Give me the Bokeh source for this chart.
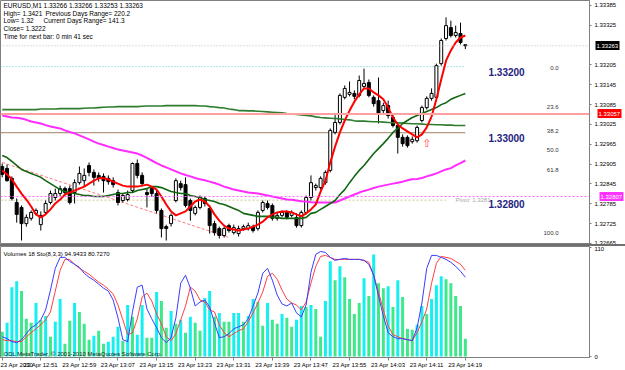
from bokeh.plotting import figure
from bokeh.models import (Range1d, LinearAxis, FixedTicker, NumeralTickFormatter,
                          Label, Span, ColumnDataSource, Spacer)
from bokeh.layouts import column
from bokeh.embed import file_html
from bokeh.resources import INLINE

# ---------------- data (EURUSD M1, 23 Apr 2010, 12:43 .. 14:19) ----------------
bar_index = list(range(97))

opens = [1.32898,1.32892,1.32862,1.32789,1.32774,1.32725,1.32741,1.32756,1.32722,1.32759,
         1.32789,1.32804,1.32816,1.32831,1.32831,1.32819,1.32849,1.32855,1.32901,1.32880,
         1.32871,1.32868,1.32862,1.32855,1.32819,1.32795,1.32798,1.32825,1.32907,1.32871,
         1.32819,1.32831,1.32816,1.32765,1.32716,1.32725,1.32795,1.32846,1.32843,1.32795,
         1.32756,1.32774,1.32801,1.32771,1.32725,1.32710,1.32689,1.32719,1.32698,1.32695,
         1.32710,1.32710,1.32716,1.32710,1.32765,1.32786,1.32780,1.32741,1.32750,1.32759,
         1.32750,1.32744,1.32719,1.32759,1.32804,1.32834,1.32834,1.32849,1.32886,1.33001,
         1.33031,1.33107,1.33116,1.33119,1.33113,1.33140,1.33152,1.33107,1.33097,1.33067,
         1.33082,1.33046,1.33022,1.32986,1.32986,1.32973,1.32976,1.33037,1.33076,1.33104,
         1.33107,1.33209,1.33285,1.33318,1.33294,1.33300,1.33266]
highs = [1.32907,1.32904,1.32868,1.32801,1.32780,1.32753,1.32765,1.32771,1.32762,1.32795,
         1.32825,1.32831,1.32840,1.32837,1.32840,1.32859,1.32898,1.32892,1.32910,1.32889,
         1.32880,1.32877,1.32871,1.32865,1.32828,1.32816,1.32825,1.32910,1.32919,1.32880,
         1.32831,1.32837,1.32825,1.32771,1.32722,1.32756,1.32862,1.32855,1.32865,1.32801,
         1.32780,1.32810,1.32807,1.32780,1.32734,1.32716,1.32716,1.32725,1.32722,1.32719,
         1.32722,1.32728,1.32722,1.32765,1.32795,1.32795,1.32786,1.32759,1.32765,1.32765,
         1.32765,1.32756,1.32765,1.32810,1.32871,1.32846,1.32868,1.32886,1.33013,1.33058,
         1.33119,1.33143,1.33155,1.33128,1.33173,1.33194,1.33161,1.33113,1.33167,1.33091,
         1.33097,1.33055,1.33031,1.32995,1.32992,1.32989,1.33022,1.33082,1.33110,1.33134,
         1.33209,1.33285,1.33349,1.33339,1.33324,1.33333,1.33266]
lows = [1.32865,1.32852,1.32795,1.32728,1.32674,1.32716,1.32734,1.32750,1.32704,1.32753,
        1.32783,1.32795,1.32807,1.32810,1.32783,1.32786,1.32843,1.32837,1.32868,1.32840,
        1.32852,1.32819,1.32843,1.32834,1.32780,1.32789,1.32792,1.32819,1.32862,1.32837,
        1.32774,1.32807,1.32756,1.32683,1.32674,1.32716,1.32789,1.32825,1.32774,1.32734,
        1.32750,1.32768,1.32777,1.32695,1.32689,1.32680,1.32683,1.32698,1.32692,1.32686,
        1.32704,1.32704,1.32698,1.32704,1.32759,1.32768,1.32734,1.32734,1.32744,1.32738,
        1.32744,1.32713,1.32713,1.32753,1.32795,1.32825,1.32828,1.32843,1.32880,1.32995,
        1.33025,1.33101,1.33110,1.33101,1.33107,1.33134,1.33107,1.33079,1.33028,1.33058,
        1.33043,1.33016,1.32937,1.32958,1.32955,1.32967,1.32970,1.33031,1.33070,1.33097,
        1.33101,1.33203,1.33279,1.33288,1.33288,1.33267,1.33253]
closes = [1.32874,1.32855,1.32801,1.32753,1.32725,1.32744,1.32759,1.32765,1.32750,1.32786,
          1.32816,1.32816,1.32831,1.32819,1.32789,1.32849,1.32877,1.32871,1.32880,1.32865,
          1.32862,1.32855,1.32852,1.32843,1.32789,1.32810,1.32813,1.32907,1.32871,1.32846,
          1.32813,1.32816,1.32765,1.32710,1.32710,1.32750,1.32855,1.32834,1.32780,1.32765,
          1.32774,1.32804,1.32786,1.32719,1.32698,1.32689,1.32710,1.32704,1.32713,1.32710,
          1.32716,1.32719,1.32704,1.32759,1.32789,1.32774,1.32741,1.32750,1.32759,1.32744,
          1.32759,1.32719,1.32759,1.32804,1.32849,1.32840,1.32862,1.32880,1.33007,1.33031,
          1.33113,1.33134,1.33122,1.33110,1.33158,1.33149,1.33113,1.33088,1.33058,1.33082,
          1.33052,1.33022,1.32986,1.32967,1.32961,1.32980,1.33016,1.33076,1.33104,1.33119,
          1.33203,1.33279,1.33324,1.33294,1.33303,1.33273,1.33263]

ma_fast = [1.32886,1.32874,1.32859,1.32837,1.32816,1.32798,1.32777,1.32753,1.32744,1.32753,
           1.32768,1.32786,1.32798,1.32813,1.32819,1.32825,1.32831,1.32837,1.32846,1.32855,
           1.32862,1.32862,1.32859,1.32852,1.32846,1.32840,1.32837,1.32837,1.32837,1.32840,
           1.32843,1.32837,1.32828,1.32807,1.32783,1.32762,1.32750,1.32756,1.32762,1.32777,
           1.32792,1.32798,1.32792,1.32777,1.32753,1.32734,1.32719,1.32710,1.32707,1.32704,
           1.32707,1.32710,1.32716,1.32722,1.32731,1.32744,1.32753,1.32759,1.32762,1.32762,
           1.32759,1.32753,1.32747,1.32756,1.32768,1.32783,1.32822,1.32855,1.32910,1.32958,
           1.33001,1.33037,1.33067,1.33094,1.33116,1.33134,1.33134,1.33122,1.33113,1.33101,
           1.33076,1.33046,1.33025,1.33013,1.33004,1.32995,1.32986,1.32995,1.33016,1.33049,
           1.33101,1.33161,1.33218,1.33249,1.33273,1.33288,1.33294]
ma_mid = [1.32931,1.32925,1.32913,1.32901,1.32889,1.32883,1.32877,1.32871,1.32865,1.32855,
          1.32846,1.32837,1.32828,1.32822,1.32819,1.32816,1.32813,1.32810,1.32810,1.32807,
          1.32807,1.32807,1.32810,1.32813,1.32816,1.32816,1.32819,1.32819,1.32825,1.32828,
          1.32831,1.32837,1.32837,1.32834,1.32828,1.32822,1.32819,1.32816,1.32816,1.32810,
          1.32807,1.32804,1.32798,1.32795,1.32792,1.32786,1.32783,1.32777,1.32771,1.32765,
          1.32756,1.32753,1.32750,1.32747,1.32747,1.32747,1.32744,1.32744,1.32741,1.32741,
          1.32741,1.32741,1.32741,1.32744,1.32756,1.32759,1.32768,1.32777,1.32786,1.32795,
          1.32813,1.32828,1.32849,1.32868,1.32886,1.32901,1.32919,1.32937,1.32952,1.32967,
          1.32983,1.33001,1.33013,1.33028,1.33037,1.33046,1.33052,1.33058,1.33064,1.33070,
          1.33076,1.33085,1.33091,1.33101,1.33107,1.33113,1.33119]
ma_slow = [1.33070,1.33070,1.33070,1.33070,1.33070,1.33070,1.33070,1.33070,1.33072,1.33072,
           1.33072,1.33072,1.33073,1.33073,1.33073,1.33073,1.33073,1.33074,1.33075,1.33075,
           1.33076,1.33077,1.33078,1.33078,1.33079,1.33079,1.33079,1.33079,1.33079,1.33080,
           1.33081,1.33081,1.33081,1.33081,1.33082,1.33082,1.33082,1.33082,1.33082,1.33082,
           1.33082,1.33081,1.33081,1.33079,1.33078,1.33076,1.33075,1.33072,1.33070,1.33067,
           1.33067,1.33066,1.33066,1.33065,1.33064,1.33063,1.33062,1.33061,1.33060,1.33058,
           1.33057,1.33055,1.33054,1.33052,1.33051,1.33048,1.33046,1.33045,1.33044,1.33043,
           1.33042,1.33040,1.33039,1.33036,1.33035,1.33035,1.33034,1.33033,1.33033,1.33032,
           1.33031,1.33030,1.33030,1.33029,1.33028,1.33027,1.33027,1.33026,1.33025,1.33025,
           1.33024,1.33024,1.33023,1.33023,1.33022,1.33022,1.33022]
ma_long = [1.33052,1.33049,1.33046,1.33045,1.33043,1.33039,1.33034,1.33031,1.33028,1.33023,
           1.33019,1.33016,1.33013,1.33007,1.33002,1.32998,1.32992,1.32986,1.32980,1.32973,
           1.32967,1.32963,1.32958,1.32954,1.32949,1.32946,1.32943,1.32940,1.32937,1.32931,
           1.32924,1.32916,1.32908,1.32901,1.32895,1.32889,1.32883,1.32877,1.32872,1.32868,
           1.32863,1.32859,1.32856,1.32852,1.32848,1.32843,1.32837,1.32833,1.32828,1.32825,
           1.32822,1.32819,1.32818,1.32816,1.32813,1.32810,1.32807,1.32804,1.32801,1.32798,
           1.32797,1.32795,1.32793,1.32792,1.32790,1.32789,1.32789,1.32789,1.32789,1.32789,
           1.32795,1.32801,1.32807,1.32813,1.32819,1.32824,1.32828,1.32833,1.32837,1.32840,
           1.32843,1.32846,1.32849,1.32852,1.32856,1.32859,1.32860,1.32863,1.32868,1.32872,
           1.32877,1.32883,1.32889,1.32893,1.32901,1.32908,1.32916]

volumes = [25,34,70,76,66,38,34,54,37,41, 20,35,58,13,36,54,45,33,17,21,
           26,13,15,20,30,16,52,40,22,52, 19,19,65,56,29,46,33,37,24,40,
           34,26,59,66,40,44,35,35,44,44, 35,41,58,55,31,54,37,33,43,39,
           30,37,51,50,52,48,20,56,96,77, 91,80,58,43,54,79,61,103,74,69,
           71,50,77,60,28,27,32,51,43,58, 72,81,78,74,61,51,18]
vol_up = [0,1,1,1,0,0,0,1,0,1, 0,1,1,0,0,1,0,0,0,1, 0,0,1,1,1,0,1,0,1,1,
          0,0,1,0,0,1,0,1,0,1, 0,0,1,1,0,1,0,0,1,1, 0,1,1,0,0,1,0,0,1,0,
          0,1,1,0,1,0,0,1,1,0, 1,0,0,0,0,1,0,1,0,0, 1,0,1,0,0,0,1,1,0,1,
          1,1,0,0,0,0,0]
stoch_main = [20,18,15,14,17,23,29,32,37,47, 67,89,100,100,96,93,90,84,80,77,
              73,69,66,57,39,17,15,45,70,72, 48,38,29,19,14,19,39,74,82,69,
              51,55,57,50,34,19,20,23,28,30, 32,38,51,64,84,89,77,62,53,51,
              54,44,40,52,85,103,106,105,100,97, 98,99,98,98,98,97,93,82,61,41,
              24,20,18,18,17,16,29,54,89,102, 102,100,98,95,91,86,80]
stoch_signal = [17,16,16,15,15,20,24,28,32,37, 45,66,87,98,98,93,89,86,83,79,
                75,72,68,63,52,37,22,24,38,60, 64,56,43,33,20,16,23,37,51,70,
                66,57,55,47,45,32,24,20,23,26, 28,35,44,54,65,81,84,78,67,58,
                54,52,47,55,74,91,101,102,100,98, 98,98,98,98,98,97,95,82,65,47,
                31,22,20,18,17,16,24,35,48,74, 94,101,100,99,96,93,87]

time_tick_bars = [0, 8, 16, 24, 32, 40, 48, 56, 64, 72, 80, 88, 96]
time_tick_labels = ["23 Apr 2010", "23 Apr 12:51", "23 Apr 12:59", "23 Apr 13:07",
                    "23 Apr 13:15", "23 Apr 13:23", "23 Apr 13:31", "23 Apr 13:39",
                    "23 Apr 13:47", "23 Apr 13:55", "23 Apr 14:03", "23 Apr 14:11",
                    "23 Apr 14:19"]
price_ticks = [1.33385, 1.33325, 1.33205, 1.33145, 1.33085, 1.33025, 1.32965,
               1.32905, 1.32845, 1.32785, 1.32725, 1.32665]

bid_price = 1.33263
red_level = 1.33057
magenta_level = 1.32807
round_levels = [1.33200, 1.33000, 1.32800]
round_labels = ["1.33200", "1.33000", "1.32800"]
pivot_line = 1.32796
pivot_text = "Pivot: 1.3281"
fib_high, fib_low = 1.33200, 1.32701
fib_ratios = [0.0, 23.6, 38.2, 50.0, 61.8, 100.0]
trend_bars = [0, 47]
trend_prices = [1.32910, 1.32683]
signal_bar, signal_price = 88, 1.32967

header_lines = ["EURUSD,M1  1.33266 1.33266 1.33253 1.33263",
                "High= 1.3421", "Previous Days Range= 220.2",
                "Low= 1.32", "Current Days Range= 141.3",
                "Close= 1.3222", "Time for next bar: 0 min 41 sec"]

# ---------------- layout constants ----------------
W = 625
P1_H, SEP_H, P2_H = 244, 2, 124
RIGHT_W = 26
BAR_PX, X0_PX = 4.906, 1.75
X_START = -X0_PX / BAR_PX
X_END = (W - RIGHT_W - X0_PX) / BAR_PX
PRICE_TOP, PRICE_PER_PX = 1.33400, 0.00003025
PRICE_BOTTOM = PRICE_TOP - P1_H * PRICE_PER_PX
FONT = "Liberation Sans"
GRAY = "#808080"

def base_fig(height, y_range, x_range):
    f = figure(width=W, height=height, x_range=x_range, y_range=y_range,
               output_backend="svg", toolbar_location=None,
               x_axis_location=None, y_axis_location=None,
               min_border_left=0, min_border_right=RIGHT_W,
               min_border_top=0, min_border_bottom=0,
               background_fill_color="white", border_fill_color="white",
               outline_line_color=GRAY, outline_line_width=1)
    f.grid.visible = False
    return f

def style_axis(ax):
    ax.axis_line_color = GRAY
    ax.major_tick_line_color = GRAY
    ax.major_tick_out = 2
    ax.major_tick_in = 0
    ax.minor_tick_line_color = None
    ax.major_label_text_font = FONT
    ax.major_label_text_font_size = "6px"
    ax.major_label_text_color = "#000000"
    ax.major_label_standoff = 2

# ---------------- main price panel ----------------
p1 = base_fig(P1_H, Range1d(PRICE_BOTTOM, PRICE_TOP), Range1d(X_START, X_END))

rax = LinearAxis(ticker=FixedTicker(ticks=price_ticks),
                 formatter=NumeralTickFormatter(format="0.00000"))
style_axis(rax)
rax.major_label_standoff = 3
p1.add_layout(rax, "right")

# highlighted price boxes: one extra right axis per level, drawn back over the price scale
for lvl, bg in [(bid_price, "#000000"), (red_level, "#ff0000"), (magenta_level, "#ff33ff")]:
    bax = LinearAxis(ticker=FixedTicker(ticks=[lvl]),
                     formatter=NumeralTickFormatter(format="0.00000"))
    bax.axis_line_color = None
    bax.minor_tick_line_color = None
    bax.major_tick_line_color = bg
    bax.major_tick_line_width = 9
    bax.major_tick_line_cap = "butt"
    bax.major_tick_in = 24
    bax.major_tick_out = 0
    bax.major_label_standoff = -23
    bax.major_label_text_color = "white"
    bax.major_label_text_font = FONT
    bax.major_label_text_font_size = "6px"
    p1.add_layout(bax, "right")

p1.add_layout(Span(location=bid_price, dimension="width", line_color="#bdbdbd",
                   line_dash="1 2", line_width=1))
p1.add_layout(Span(location=red_level, dimension="width", line_color="#ff9f9f",
                   line_width=2))
p1.add_layout(Span(location=magenta_level, dimension="width", line_color="#ff66ff",
                   line_dash="2 2", line_width=1))

last_bar = bar_index[-1]
p1.segment(x0=[X_START], y0=[round_levels[0]], x1=[last_bar], y1=[round_levels[0]],
           line_color="#55cccc", line_dash="1 2", line_width=1)
p1.segment(x0=[X_START], y0=[round_levels[1]], x1=[last_bar], y1=[round_levels[1]],
           line_color="#a08064", line_width=1)
p1.segment(x0=[X_START], y0=[pivot_line], x1=[last_bar - 4], y1=[pivot_line],
           line_color="#cfc890", line_dash="2 2", line_width=1)

p1.line(trend_bars, trend_prices, line_color="#ff7a7a", line_dash="3 2", line_width=1)

tops = [max(o, c) for o, c in zip(opens, closes)]
bots = [min(o, c) for o, c in zip(opens, closes)]
fills = ["white" if c >= o else "black" for o, c in zip(opens, closes)]
csrc = ColumnDataSource(dict(x=bar_index, high=highs, low=lows, top=tops,
                             bottom=bots, fill=fills))
p1.segment(x0="x", y0="low", x1="x", y1="high", source=csrc,
           line_color="black", line_width=1)
p1.vbar(x="x", width=0.62, top="top", bottom="bottom", source=csrc,
        fill_color="fill", line_color="black", line_width=1)

p1.line(bar_index, ma_long, line_color="#ff2bff", line_width=2)
p1.line(bar_index, ma_slow, line_color="#2e7d2e", line_width=1.6)
p1.line(bar_index, ma_mid, line_color="#116611", line_width=1.6)
p1.line(bar_index, ma_fast, line_color="#ff0000", line_width=2)

p1.add_layout(Label(x=signal_bar, y=signal_price, text="\u21e7", text_color="#ff4d4d",
                    text_font="DejaVu Sans", text_font_size="11px",
                    text_align="center", text_baseline="middle"))

for lvl, txt in zip(round_levels, round_labels):
    p1.add_layout(Label(x=X_START, y=lvl, x_offset=488, y_offset=-1, text=txt,
                        text_color="#23237d", text_font=FONT, text_font_size="10px",
                        text_font_style="bold", text_align="left", text_baseline="top"))

p1.add_layout(Label(x=X_START, y=pivot_line, x_offset=455, text=pivot_text,
                    text_color="#a8a8a8", text_font=FONT, text_font_size="6px",
                    text_align="left", text_baseline="middle"))

for r in fib_ratios:
    lvl = fib_high - (fib_high - fib_low) * r / 100.0
    p1.add_layout(Label(x=X_START, y=lvl, x_offset=558, y_offset=-1, text=f"{r:.1f}",
                        text_color="#333333", text_font=FONT, text_font_size="6px",
                        text_align="right", text_baseline="middle"))

header_pos = [(3, 5), (3, 12.7), (45, 12.7), (3, 20.3), (43, 20.3), (3, 28), (3, 35.5)]
for txt, (dx, dy) in zip(header_lines, header_pos):
    p1.add_layout(Label(x=X_START, y=PRICE_TOP, x_offset=dx, y_offset=-dy, text=txt,
                        text_color="black", text_font=FONT, text_font_size="6.5px",
                        text_align="left", text_baseline="middle"))

sep = Spacer(width=W, height=SEP_H, styles={"background-color": "#6f6f6f"})

# ---------------- indicator panel ----------------
p2 = base_fig(P2_H, Range1d(-1, 111), p1.x_range)

rax2 = LinearAxis(ticker=FixedTicker(ticks=[0, 110]))
style_axis(rax2)
rax2.major_label_standoff = 3
p2.add_layout(rax2, "right")

xax = LinearAxis(ticker=FixedTicker(ticks=time_tick_bars),
                 major_label_overrides={b: t for b, t in zip(time_tick_bars, time_tick_labels)})
style_axis(xax)
xax.major_tick_out = 3
xax.major_label_standoff = 1
xax.major_label_text_align = "left"
p2.add_layout(xax, "below")

vcolors = ["#14f0f0" if u else "#3fe88a" for u in vol_up]
p2.vbar(x=bar_index, top=volumes, bottom=0, width=0.62, fill_color=vcolors,
        line_color=None)
p2.line(bar_index, stoch_signal, line_color="#ff4040", line_width=1)
p2.line(bar_index, stoch_main, line_color="#3c3cff", line_width=1)

p2.add_layout(Label(x=X_START, y=110, x_offset=3, y_offset=-7,
                    text="Volumes 18  Sto(8,3,3) 94.9433 80.7270",
                    text_color="black", text_font=FONT, text_font_size="6px",
                    text_align="left", text_baseline="middle"))
p2.add_layout(Label(x=X_START, y=0, x_offset=3, y_offset=3,
                    text="ODL MetaTrader, \u00a9 2001-2010 MetaQuotes Software Corp.",
                    text_color="#222222", text_font=FONT, text_font_size="6px",
                    text_align="left", text_baseline="middle"))

layout = column(p1, sep, p2, spacing=0)
open("out.html", "w").write(file_html(layout, INLINE))
